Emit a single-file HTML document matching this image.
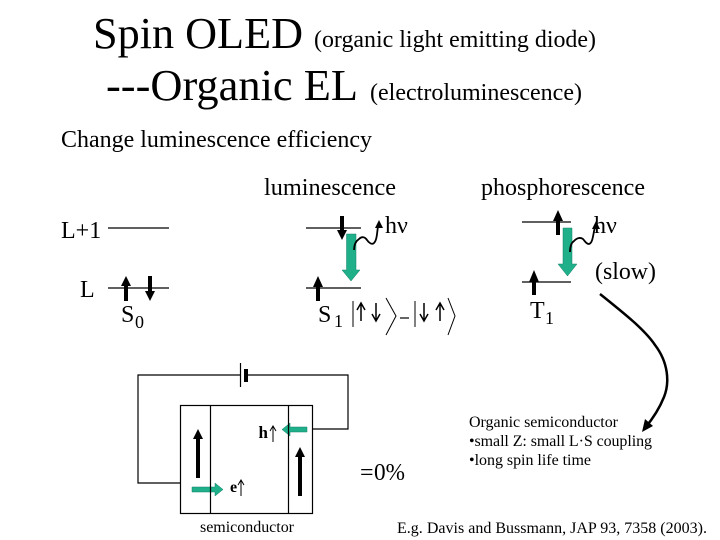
<!DOCTYPE html>
<html><head><meta charset="utf-8"><style>
html,body{margin:0;padding:0;background:#fff}
svg{display:block}
text{font-family:"Liberation Serif","DejaVu Serif",serif;fill:#000}
</style></head><body>
<svg width="720" height="540" viewBox="0 0 720 540" xmlns="http://www.w3.org/2000/svg">
<rect width="720" height="540" fill="#fff"/>
<text x="93" y="48" font-size="44" textLength="210" lengthAdjust="spacingAndGlyphs">Spin OLED</text>
<text x="314" y="47" font-size="24" textLength="282" lengthAdjust="spacingAndGlyphs">(organic light emitting diode)</text>
<text x="106" y="100" font-size="44" textLength="252" lengthAdjust="spacingAndGlyphs">---Organic EL</text>
<text x="370" y="100" font-size="24" textLength="212" lengthAdjust="spacingAndGlyphs">(electroluminescence)</text>
<text x="61" y="147" font-size="24" textLength="311" lengthAdjust="spacingAndGlyphs">Change luminescence efficiency</text>
<text x="264" y="195" font-size="24" textLength="132" lengthAdjust="spacingAndGlyphs">luminescence</text>
<text x="481" y="195" font-size="24" textLength="164" lengthAdjust="spacingAndGlyphs">phosphorescence</text>

<g stroke="#000" stroke-width="1.2" fill="none">
<path d="M108 228H169M108 288H169M306 228H361M306 288H361M522 222H571M522 282H571"/>
</g>
<text x="61" y="238" font-size="24">L+1</text>
<text x="80" y="297" font-size="24">L</text>
<text x="121" y="322" font-size="24">S</text><text x="135" y="328" font-size="18">0</text>
<text x="318" y="322" font-size="24">S</text><text x="334" y="327" font-size="18">1</text>
<text x="530" y="318" font-size="24">T</text><text x="545" y="324" font-size="18">1</text>
<text x="385" y="233" font-size="24">hν</text>
<text x="594" y="233" font-size="24">hν</text>
<text x="595" y="279" font-size="24" textLength="61" lengthAdjust="spacingAndGlyphs">(slow)</text>

<!-- spin arrows -->
<g fill="#000">
<path d="M124 301V286H121L126 276L131 286H128V301z"/>
<path d="M148 276V291H145L150 301L155 291H152V276z"/>
<path d="M316 301V287H313L318 276L323 287H320V301z"/>
<path d="M340 216V230H337L342 240L347 230H344V216z"/>
<path d="M556 235V221H553L558 210L563 221H560V235z"/>
<path d="M532 295V282H529L534 270L539 282H536V295z"/>
</g>
<!-- green arrows -->
<g fill="#1fb08a" stroke="#15806a" stroke-width=".5">
<path d="M346.500 234H356V270H360L351 281L342 270H346.500z"/>
<path d="M563 228H572V264H577L567.500 276L558 264H563z"/>
<path d="M192 487H215V483L223 489.500L215 496V492H192z"/>
<path d="M307 427H290V423L282 429.500L290 436V432H307z"/>
</g>
<!-- photon waves -->
<g fill="none" stroke="#000" stroke-width="1.8">
<path d="M354 250C354 245 356 241 359 239C362 236 365 237 367 240C369 243 372 245 374 243C377 240 377 233 378 226"/>
<path d="M570 252C570 247 571 243 574 241C577 238 580 237 583 239C585 241 586 244 589 244C593 243 593 234 595 227"/>
</g>
<path d="M375 228L379 220L383 228z" fill="#000"/>
<path d="M592 229L596 221L600 229z" fill="#000"/>

<!-- ket -->
<g fill="none" stroke="#000" stroke-width="1">
<path d="M353 301V327M386 298L396 316L386 335M415 301V327M448 298L455 316L448 335"/>
<path d="M400 318H409" stroke-width="1.2"/>
</g>
<g fill="none" stroke="#000" stroke-width="1.5">
<path d="M361 321V304M357 310L361 303L365 310M376 303V320M372 314L376 321L380 314M424 303V320M420 314L424 321L428 314M440 321V304M436 310L440 303L444 310"/>
</g>

<!-- big curve -->
<path d="M600 294C625 314 645 330 655 345C668 362 670 382 664 397C658 412 650 422 645 428" fill="none" stroke="#000" stroke-width="2.5"/>
<path d="M642 432L645 419L653 426z" fill="#000"/>

<!-- circuit -->
<g fill="none" stroke="#000" stroke-width="1.2">
<path d="M240 375H138V483H180M246 375H348V429H313"/>
<path d="M240.500 363V387"/>
<rect x="180.500" y="405.500" width="132" height="108"/>
<path d="M210.500 405V513M288.500 405V513"/>
</g>
<rect x="244" y="369" width="4" height="13" fill="#000"/>
<path d="M196 478V439H193L198 429L203 439H200V478z" fill="#000"/>
<path d="M298 496V457H295L300 447L305 457H302V496z" fill="#000"/>
<text x="258.500" y="438" font-size="17" font-weight="bold">h</text>
<path d="M273 442V427M270 431L273 426L276 431" fill="none" stroke="#000" stroke-width="1"/>
<text x="230" y="492" font-size="16" font-weight="bold">e</text>
<path d="M241 496V481M238 485L241 480L244 485" fill="none" stroke="#000" stroke-width="1"/>
<text x="200" y="532" font-size="16" textLength="94">semiconductor</text>

<text x="360" y="480" font-size="24">=</text>
<text x="374" y="480" font-size="24" textLength="31" lengthAdjust="spacingAndGlyphs">0%</text>
<text x="469" y="427" font-size="16" textLength="149">Organic semiconductor</text>
<text x="469" y="446" font-size="16" textLength="183">•small Z: small L·S coupling</text>
<text x="469" y="465" font-size="16" textLength="122">•long spin life time</text>
<text x="397" y="533" font-size="16" textLength="310">E.g. Davis and Bussmann, JAP 93, 7358 (2003).</text>
</svg>
</body></html>
